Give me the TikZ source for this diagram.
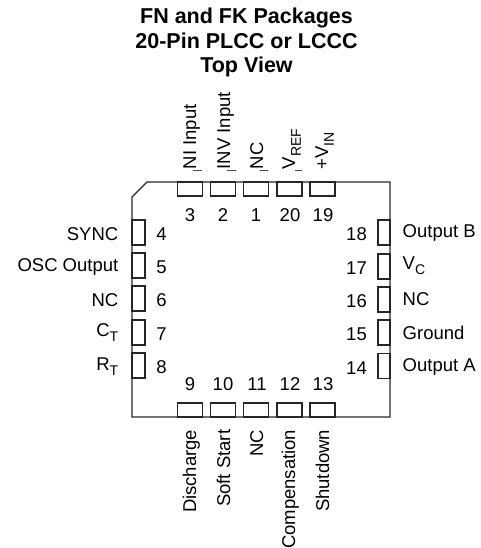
\documentclass[tikz,border=0pt]{standalone}
\usepackage{fontspec}
\setmainfont{Liberation Sans}
\newcommand{\subs}[1]{\raisebox{-5.7pt}{\fontsize{14}{14}\selectfont #1}}
\tikzset{
  x=1pt,y=-1pt,
  lbl/.style={font=\fontsize{18.5}{18.5}\selectfont,inner sep=0pt,text height=13.3pt,text depth=0pt},
  num/.style={lbl,anchor=center},
  pinbox/.style={draw=black!85,line width=1.1pt,fill=none},
  body/.style={draw=black!85,line width=1.2pt},
  tick/.style={draw=black!70,line width=0.7pt},
  ttl/.style={font=\bfseries\fontsize{21.5}{24.5}\selectfont,align=center,inner sep=0pt,anchor=center}
}
\begin{document}
\begin{tikzpicture}
\useasboundingbox (0,0) rectangle (481,548);
\node[ttl] (title) at (246.5,42.5) {FN and FK Packages\\20-Pin PLCC or LCCC\\Top View};
\draw[body] (147,182) -- (390,182) -- (390,417) -- (132,417) -- (132,197) -- cycle;
% top pins
\foreach \n/\xa/\t/\xb in {p3/177.5/3/190,p2/210.5/2/223,p1/243.5/1/256,p20/277/20/290,p19/310/19/323}{
  \draw[pinbox] (\xa,182) rectangle (\xa+25,196);
  \node[num] (n\n) at (\xb,215) {\t};
}
% bottom pins
\foreach \n/\xa/\t/\xb in {p9/177.5/9/190,p10/210.5/10/223,p11/243.5/11/257,p12/277/12/290,p13/310/13/323}{
  \draw[pinbox] (\xa,403) rectangle (\xa+25,417);
  \node[num] (n\n) at (\xb,384) {\t};
}
% left pins
\foreach \n/\ya/\t in {p4/220/4,p5/253/5,p6/286/6,p7/320/7,p8/353/8}{
  \draw[pinbox] (132,\ya) rectangle (145,\ya+25);
  \node[num] (n\n) at (161.5,\ya+14) {\t};
}
% right pins
\foreach \n/\ya/\t in {p18/220/18,p17/254/17,p16/287/16,p15/320/15,p14/353.5/14}{
  \draw[pinbox] (378,\ya) rectangle (390,\ya+25);
  \node[num] (n\n) at (356.5,\ya+14) {\t};
}
% left labels
\node[lbl,anchor=east] (sync) at (118.5,233.5) {SYNC};
\node[lbl,anchor=east] (osc) at (118.5,264.5) {OSC Output};
\node[lbl,anchor=east] (ncl) at (118.5,299.5) {NC};
\node[lbl,anchor=east] (ct) at (118.5,329.5) {C\subs{T}};
\node[lbl,anchor=east] (rt) at (118.5,363.5) {R\subs{T}};
% right labels
\node[lbl,anchor=west] (ob) at (402.5,231) {Output B};
\node[lbl,anchor=west] (vc) at (402.5,262.5) {V\subs{C}};
\node[lbl,anchor=west] (ncr) at (402.5,299) {NC};
\node[lbl,anchor=west] (gnd) at (402.5,332.5) {Ground};
\node[lbl,anchor=west] (oa) at (402.5,364.5) {Output A};
% top rotated labels
\node[lbl,rotate=90,anchor=west] (ni) at (189.5,169.5) {NI Input};
\node[lbl,rotate=90,anchor=west] (inv) at (223.5,169.5) {INV Input};
\node[lbl,rotate=90,anchor=west] (nct) at (256.5,169.5) {NC};
\node[lbl,rotate=90,anchor=west] (vref) at (288.5,169.5) {V\subs{REF}};
\node[lbl,rotate=90,anchor=west] (vin) at (321.5,169.5) {+V\subs{IN}};
\draw[tick] (193,170) -- (202,170);
\draw[tick] (227,170) -- (236,170);
\draw[tick] (260,170) -- (268,170);
\draw[tick] (295,170) -- (302,170);
% bottom rotated labels
\node[lbl,rotate=90,anchor=east] (dis) at (189.5,429.5) {Discharge};
\node[lbl,rotate=90,anchor=east] (ss) at (223.5,429.5) {Soft Start};
\node[lbl,rotate=90,anchor=east] (ncb) at (256.5,429.5) {NC};
\node[lbl,rotate=90,anchor=east] (comp) at (288.5,429.5) {Compensation};
\node[lbl,rotate=90,anchor=east] (shd) at (322.5,429.5) {Shutdown};
\end{tikzpicture}
\end{document}
